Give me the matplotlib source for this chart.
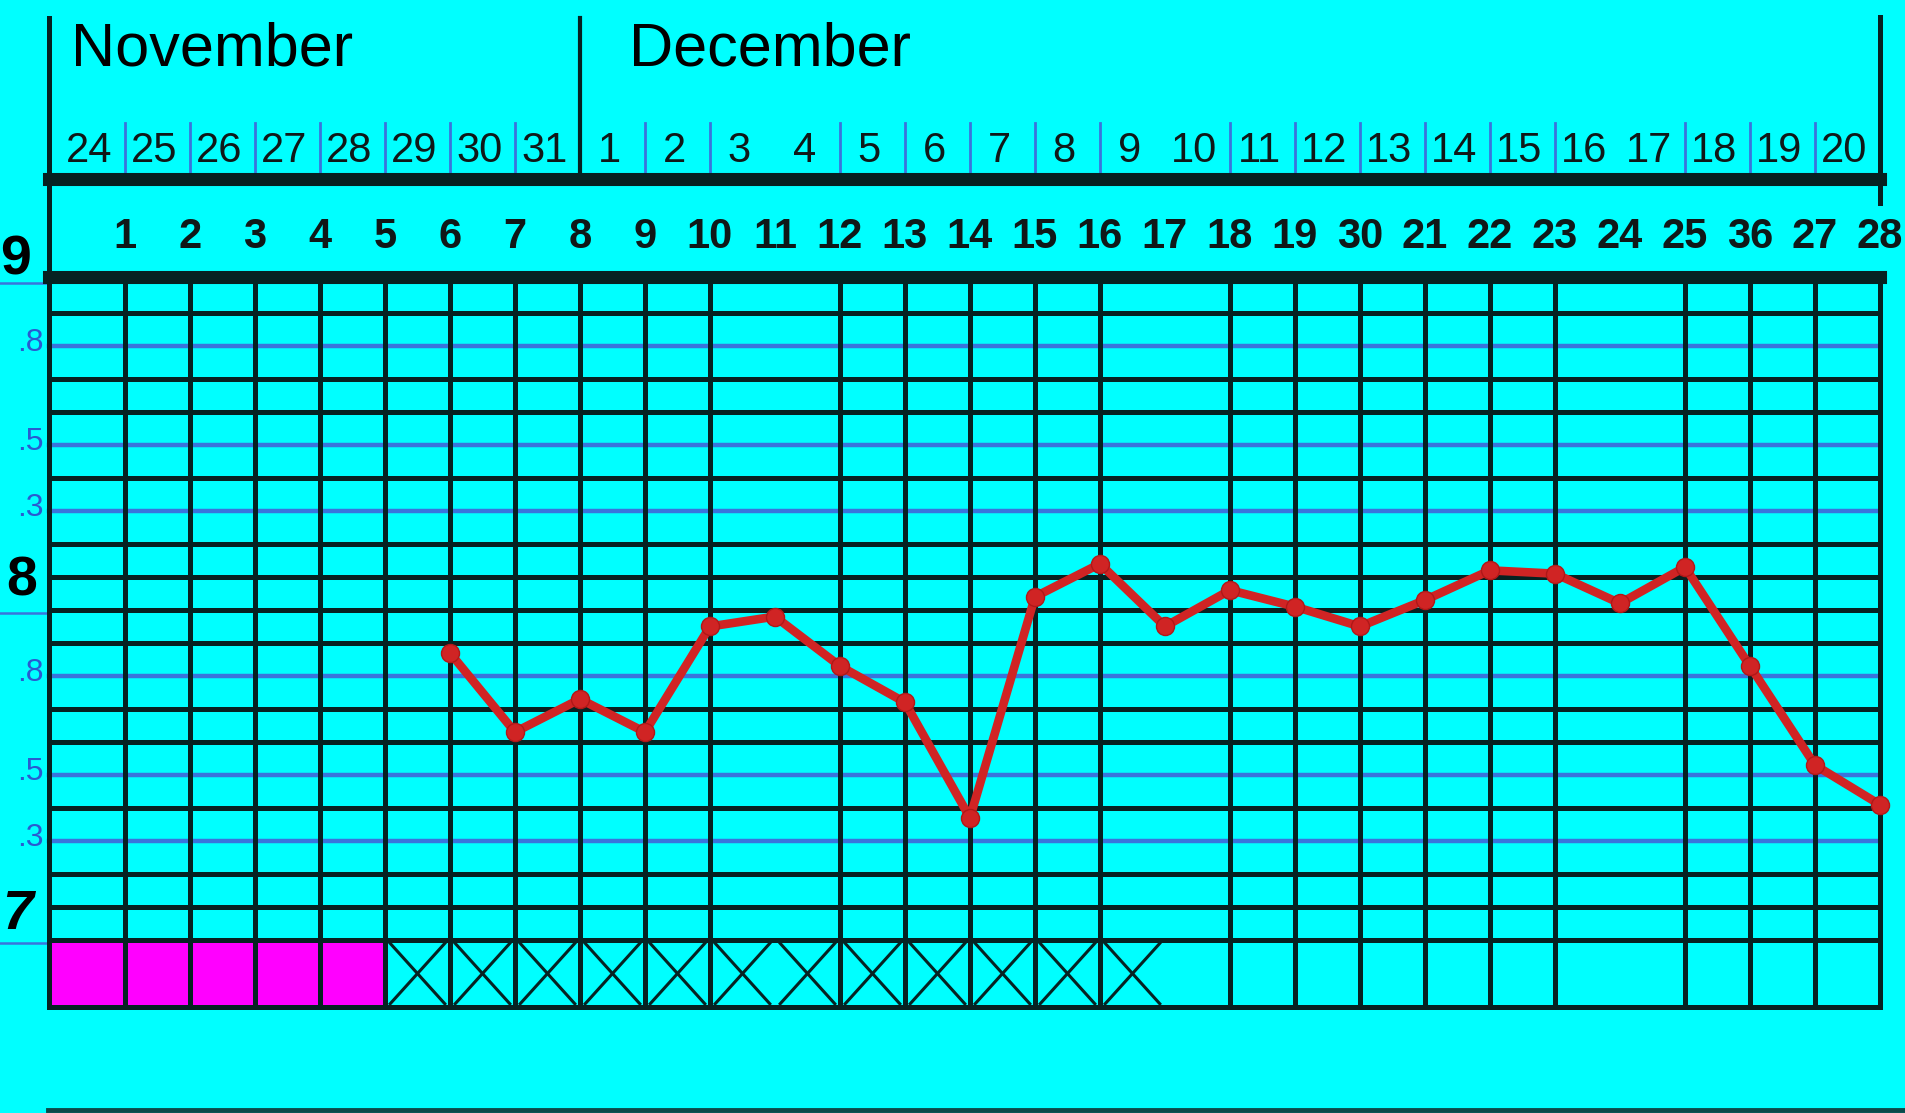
import matplotlib
matplotlib.use("Agg")
import matplotlib.pyplot as plt
from matplotlib.patches import Rectangle

# chart data
cycle_days = list(range(6, 29))
temps = [97.87, 97.63, 97.73, 97.63, 97.95, 97.98, 97.83, 97.72, 97.37,
         98.04, 98.14, 97.95, 98.06, 98.01, 97.95, 98.03, 98.12, 98.11,
         98.02, 98.13, 97.83, 97.53, 97.41]

months = ["November", "December"]
date_labels = ["24", "25", "26", "27", "28", "29", "30", "31",
               "1", "2", "3", "4", "5", "6", "7", "8", "9", "10",
               "11", "12", "13", "14", "15", "16", "17", "18", "19", "20"]
day_labels = ["1", "2", "3", "4", "5", "6", "7", "8", "9", "10",
              "11", "12", "13", "14", "15", "16", "17", "18", "19", "30",
              "21", "22", "23", "24", "25", "36", "27", "28"]

big_ticks = [99.0, 98.0, 97.0]
big_tick_labels = ["9", "8", "7"]
blue_rows = [98.8, 98.5, 98.3, 97.8, 97.5, 97.3]
blue_row_labels = [".8", ".5", ".3", ".8", ".5", ".3"]
missing_cols = [11, 17, 24]
period_days = [1, 2, 3, 4, 5]
marked_days = list(range(6, 18))

# colours
BG = "#00ffff"
INK = "#062222"
BLUE = "#3a74dc"
RED = "#d02424"
MAG = "#ff00ff"

# layout in data units
LEFT = -0.175
RIGHT = 28
GRID_TOP = 99.01
HEAD_LINE = 99.306
ROW_BOT = 96.797

fig = plt.figure(figsize=(19.05, 11.13), dpi=100)
fig.patch.set_facecolor(BG)
ax = fig.add_axes([0, 0, 1, 1])
ax.set_facecolor(BG)
ax.set_xlim(-0.923, 28.385)
ax.set_ylim(96.476, 99.848)
ax.axis("off")

# horizontal rules
rows = [round(97.0 + 0.1 * i, 1) for i in range(0, 20)]
for t in rows:
    if t in blue_rows:
        ax.plot([LEFT, RIGHT], [t, t], color=BLUE, lw=3.2, zorder=1)
    else:
        ax.plot([LEFT, RIGHT], [t, t], color=INK, lw=3.6, zorder=2)
ax.plot([LEFT, RIGHT], [ROW_BOT, ROW_BOT], color=INK, lw=3.6, zorder=2)
ax.plot([LEFT, RIGHT], [GRID_TOP, GRID_TOP], color=INK, lw=9.4, zorder=3)
ax.plot([LEFT, RIGHT], [HEAD_LINE, HEAD_LINE], color=INK, lw=9.4, zorder=3)

# vertical rules
for k in range(1, 28):
    if k in missing_cols:
        continue
    ax.plot([k, k], [ROW_BOT, GRID_TOP], color=INK, lw=3.6, zorder=2)
    if k != 8:
        ax.plot([k, k], [HEAD_LINE, 99.476], color=BLUE, lw=2.0, zorder=2)
ax.plot([LEFT, LEFT], [ROW_BOT, 99.794], color=INK, lw=3.6, zorder=3)
ax.plot([RIGHT, RIGHT], [ROW_BOT, GRID_TOP], color=INK, lw=3.6, zorder=3)
ax.plot([RIGHT, RIGHT], [99.233, 99.797], color=INK, lw=3.6, zorder=3)
ax.plot([8, 8], [HEAD_LINE, 99.794], color=INK, lw=3.0, zorder=3)

# bottom rule
ax.plot([-0.185, 28.385], [96.485, 96.485], color="#0a4a4a", lw=3.5, zorder=2)

# y marks on the left
for t in big_ticks:
    ax.plot([-0.923, -0.185], [t - 0.01, t - 0.01], color=BLUE, lw=1.8, zorder=2)
big_x = [-0.915, -0.354, -0.415]
big_ha = ["left", "right", "right"]
big_dy = [0.06, 0.085, 0.076]
for t, lab, bx, ha, dy in zip(big_ticks, big_tick_labels, big_x, big_ha, big_dy):
    ax.text(bx, t + dy, lab, ha=ha, va="center", fontsize=40,
            fontweight="bold", fontstyle="italic" if lab == "7" else "normal",
            family="Liberation Sans", color="black")
for t, lab in zip(blue_rows, blue_row_labels):
    ax.text(-0.45, t + 0.01, lab, ha="center", va="center", fontsize=23,
            family="Liberation Sans", color="#2a5ad0")

# header texts
ax.text(0.17, 99.697, months[0], ha="left", va="center", fontsize=44,
        family="Liberation Sans", color="black")
ax.text(8.75, 99.697, months[1], ha="left", va="center", fontsize=44,
        family="Liberation Sans", color="black")
for k, lab in enumerate(date_labels, start=1):
    ax.text(k - 0.55, 99.39, lab, ha="center", va="center", fontsize=30,
            family="Liberation Sans", color="#101818")
for k, lab in enumerate(day_labels, start=1):
    ax.text(k, 99.130, lab, ha="center", va="center", fontsize=30,
            fontweight="bold", family="Liberation Sans", color="#101818")

# bottom row: period cells and crossed cells
for k in period_days:
    x0 = LEFT if k == 1 else k - 1
    ax.add_patch(Rectangle((x0, ROW_BOT), k - x0, 97.0 - ROW_BOT,
                           facecolor=MAG, edgecolor="none", zorder=1))
for k in marked_days:
    x0, x1 = k - 1 + 0.08, k - 0.08
    y0, y1 = ROW_BOT + 0.01, 97.0 - 0.01
    ax.plot([x0, x1], [y1, y0], color=INK, lw=2.2, zorder=2)
    ax.plot([x0, x1], [y0, y1], color=INK, lw=2.2, zorder=2)

# temperature curve
ax.plot(cycle_days, temps, color=RED, lw=6.2, marker="o", ms=13,
        markeredgecolor="#b01818", zorder=6)

fig.savefig("out.png", dpi=100, facecolor=BG)
